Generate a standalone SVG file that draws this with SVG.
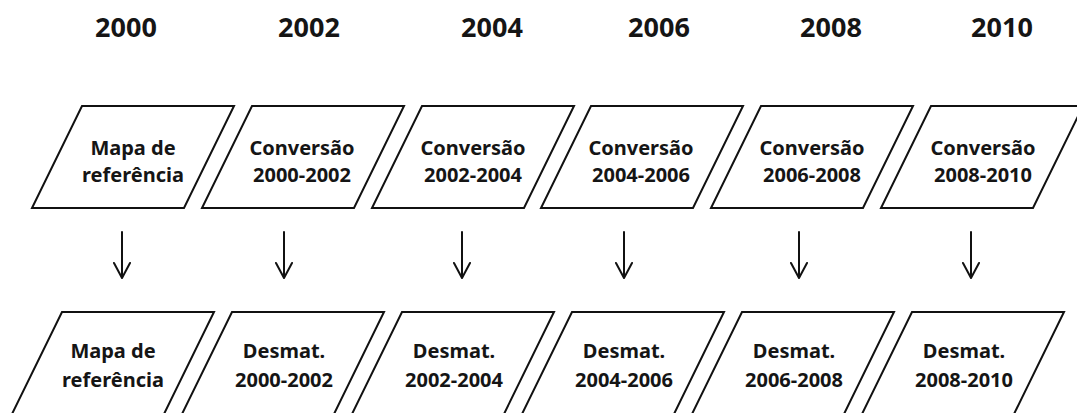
<svg xmlns="http://www.w3.org/2000/svg" width="1077" height="413" viewBox="0 0 1077 413">
<defs>
<style>
.bg{fill:#ffffff}
.box{fill:#ffffff;stroke:#111111;stroke-width:2;stroke-linejoin:miter}
.t{font-family:"Noto Sans","Open Sans","Liberation Sans",sans-serif;font-weight:700;font-size:20px;fill:#151515;text-anchor:middle}
.yr{font-family:"Noto Sans","Open Sans","Liberation Sans",sans-serif;font-weight:700;font-size:27px;fill:#151515;text-anchor:middle}
.arr{fill:none;stroke:#111111;stroke-width:2;stroke-linecap:round;stroke-linejoin:round}
</style>
</defs>
<rect class="bg" x="0" y="0" width="1077" height="413"/>
<g id="years">
<text class="yr" x="126" y="37">2000</text>
<text class="yr" x="309" y="37">2002</text>
<text class="yr" x="492" y="37">2004</text>
<text class="yr" x="659" y="37">2006</text>
<text class="yr" x="831" y="37">2008</text>
<text class="yr" x="1002" y="37">2010</text>
</g>
<g id="conv-2000">
<polygon class="box" points="82,106 234,106 184,208 32,208"/>
<text class="t" x="133" y="155">Mapa de</text>
<text class="t" x="133" y="182">referência</text>
</g>
<g id="conv-2002">
<polygon class="box" points="252,106 404,106 354,208 202,208"/>
<text class="t" x="302" y="155">Conversão</text>
<text class="t" x="302" y="182">2000-2002</text>
</g>
<g id="conv-2004">
<polygon class="box" points="422,106 574,106 524,208 372,208"/>
<text class="t" x="473" y="155">Conversão</text>
<text class="t" x="473" y="182">2002-2004</text>
</g>
<g id="conv-2006">
<polygon class="box" points="591,106 743,106 693,208 541,208"/>
<text class="t" x="641" y="155">Conversão</text>
<text class="t" x="641" y="182">2004-2006</text>
</g>
<g id="conv-2008">
<polygon class="box" points="761,106 913,106 863,208 711,208"/>
<text class="t" x="812" y="155">Conversão</text>
<text class="t" x="812" y="182">2006-2008</text>
</g>
<g id="conv-2010">
<polygon class="box" points="931,106 1083,106 1033,208 881,208"/>
<text class="t" x="983" y="155">Conversão</text>
<text class="t" x="983" y="182">2008-2010</text>
</g>
<g id="connectors">
<path class="arr" d="M122,232 V277 M114,263 L122,278 L130,263"/>
<path class="arr" d="M284,232 V277 M276,263 L284,278 L292,263"/>
<path class="arr" d="M462,232 V277 M454,263 L462,278 L470,263"/>
<path class="arr" d="M624,232 V277 M616,263 L624,278 L632,263"/>
<path class="arr" d="M799,232 V277 M791,263 L799,278 L807,263"/>
<path class="arr" d="M971,232 V277 M963,263 L971,278 L979,263"/>
</g>
<g id="desm-2000">
<polygon class="box" points="62,312 214,312 164,414 12,414"/>
<text class="t" x="113" y="358">Mapa de</text>
<text class="t" x="113" y="387">referência</text>
</g>
<g id="desm-2002">
<polygon class="box" points="232,312 384,312 334,414 182,414"/>
<text class="t" x="284" y="358">Desmat.</text>
<text class="t" x="284" y="387">2000-2002</text>
</g>
<g id="desm-2004">
<polygon class="box" points="402,312 554,312 504,414 352,414"/>
<text class="t" x="454" y="358">Desmat.</text>
<text class="t" x="454" y="387">2002-2004</text>
</g>
<g id="desm-2006">
<polygon class="box" points="572,312 724,312 674,414 522,414"/>
<text class="t" x="624" y="358">Desmat.</text>
<text class="t" x="624" y="387">2004-2006</text>
</g>
<g id="desm-2008">
<polygon class="box" points="742,312 894,312 844,414 692,414"/>
<text class="t" x="794" y="358">Desmat.</text>
<text class="t" x="794" y="387">2006-2008</text>
</g>
<g id="desm-2010">
<polygon class="box" points="912,312 1064,312 1014,414 862,414"/>
<text class="t" x="964" y="358">Desmat.</text>
<text class="t" x="964" y="387">2008-2010</text>
</g>
</svg>
